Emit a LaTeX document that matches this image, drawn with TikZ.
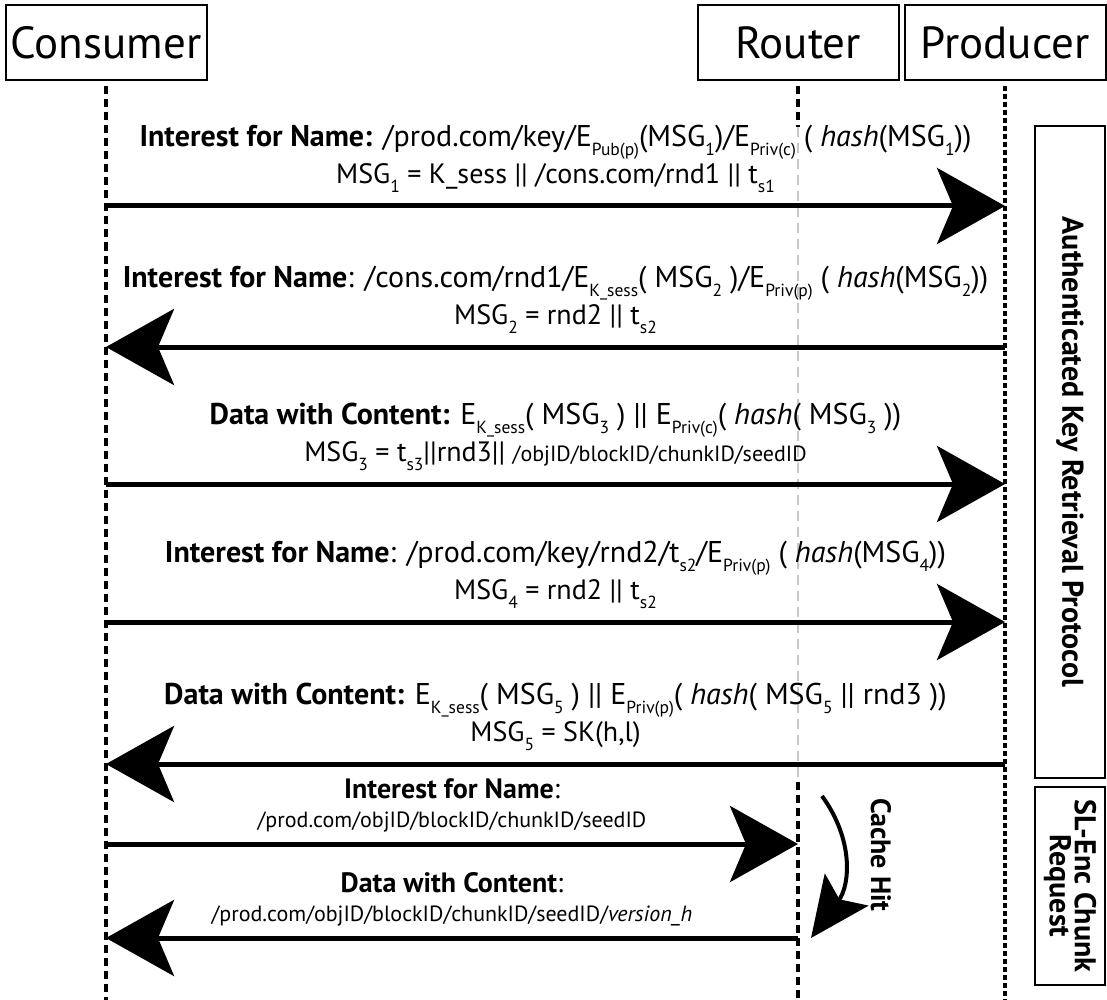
\documentclass[tikz,border=0pt]{standalone}
\usepackage{fontspec}
\setmainfont{PT Sans}
\usetikzlibrary{arrows.meta,positioning,calc}

\newcommand{\lsub}[1]{\raisebox{-9pt}[0pt][0pt]{\fontsize{17.5}{17.5}\selectfont #1}}
\newcommand{\pth}[1]{{\fontsize{22}{22}\selectfont #1}}
\newcommand{\hdl}{\fontsize{30}{37}\selectfont}

\begin{document}
\begin{tikzpicture}[
      x=1pt, y=1pt,
      font=\fontsize{28}{37}\selectfont,
      actor/.style={draw, line width=2pt, minimum width=201pt, minimum height=75pt,
                    inner sep=0pt, font=\fontsize{45}{45}\selectfont},
      life/.style={line width=3.5pt, dash pattern=on 8pt off 5pt},
      plife/.style={line width=4pt, dash pattern=on 5pt off 3pt},
      glife/.style={line width=2.5pt, draw=black!22, dash pattern=on 10pt off 6pt},
      msg/.style={line width=5pt, -{Stealth[length=68pt, width=76pt, inset=16pt]}},
      hitarr/.style={line width=4pt, -{Stealth[length=60pt, width=54pt, inset=12pt]}},
      lbl/.style={align=center, anchor=south, inner sep=0pt, text depth=0pt, yshift=20pt},
      phase/.style={draw, line width=2pt, rotate=-90, minimum height=70pt, inner sep=0pt,
                    align=center, font=\fontsize{30}{25}\selectfont\bfseries}
    ]
    \useasboundingbox (0,0) rectangle (1107,-1000);
    % participants
    \node[actor] (cons) at (106,-43) {Consumer};
    \node[actor] (rout) at (798,-43) {Router};
    \node[actor] (prod) at (1005,-43) {Producer};
    % lifelines
    \coordinate (bot) at (0,-1000);
    \coordinate (gtop) at (0,-127);
    \coordinate (gbot) at (0,-782);
    \draw[life] ([yshift=-5pt]cons.south) -- (cons.south |- bot);
    \draw[life] ([yshift=-5pt]rout.south) -- (rout.south |- gtop);
    \draw[glife] (rout.south |- gtop) -- (rout.south |- gbot);
    \draw[life] (rout.south |- gbot) -- (rout.south |- bot);
    \draw[plife] ([yshift=-5pt]prod.south) -- (prod.south |- bot);
    % message levels
    \foreach \n/\y in {1/206,2/347,3/484,4/622,5/764,6/844,7/938} {
      \coordinate (y\n) at (0,-\y);
      \coordinate (c\n) at (cons |- y\n);
      \coordinate (r\n) at (rout |- y\n);
      \coordinate (p\n) at (prod |- y\n);
    }
    \draw[msg] (c1) -- (p1) node[midway, lbl] {{\hdl\textbf{Interest for Name:} /prod.com/key/E\lsub{Pub(p)}(MSG\lsub{1})/E\lsub{Priv(c)} ( \textit{hash}(MSG\lsub{1}))}\\
      MSG\lsub{1} = K\_sess || /cons.com/rnd1 || t\lsub{s1}};
    \draw[msg] (p2) -- (c2) node[midway, lbl] {{\hdl\textbf{Interest for Name}: /cons.com/rnd1/E\lsub{K\_sess}( MSG\lsub{2} )/E\lsub{Priv(p)} ( \textit{hash}(MSG\lsub{2}))}\\
      MSG\lsub{2} = rnd2 || t\lsub{s2}};
    \draw[msg] (c3) -- (p3) node[midway, lbl] {{\hdl\textbf{Data with Content:} E\lsub{K\_sess}( MSG\lsub{3} ) || E\lsub{Priv(c)}( \textit{hash}( MSG\lsub{3} ))}\\
      MSG\lsub{3} = t\lsub{s3}||rnd3|| \pth{/objID/blockID/chunkID/seedID}};
    \draw[msg] (c4) -- (p4) node[midway, lbl] {{\hdl\textbf{Interest for Name}: /prod.com/key/rnd2/t\lsub{s2}/E\lsub{Priv(p)} ( \textit{hash}(MSG\lsub{4}))}\\
      MSG\lsub{4} = rnd2 || t\lsub{s2}};
    \draw[msg] (p5) -- (c5) node[midway, lbl] {{\hdl\textbf{Data with Content:} E\lsub{K\_sess}( MSG\lsub{5} ) || E\lsub{Priv(p)}( \textit{hash}( MSG\lsub{5} || rnd3 ))}\\
      MSG\lsub{5} = SK(h,l)};
    % chunk request served from the router cache
    \draw[msg] (c6) -- (r6) node[midway, lbl, yshift=-6pt, font=\fontsize{28}{29}\selectfont] {\textbf{Interest for Name}:\\
      \pth{/prod.com/objID/blockID/chunkID/seedID}};
    \draw[msg] (r7) -- (c7) node[midway, lbl, yshift=-6pt, font=\fontsize{28}{29}\selectfont] {\textbf{Data with Content}:\\
      \pth{/prod.com/objID/blockID/chunkID/seedID/\textit{version\_h}}};
    \coordinate (hit1) at (822,-796);
    \coordinate (hit2) at (811,-938);
    \draw[hitarr] (hit1) .. controls (854,-840) and (850,-885) .. (hit2);
    \node[rotate=-90, font=\fontsize{28}{28}\selectfont\bfseries] (hit) at (881,-855) {Cache Hit};
    % protocol phases
    \node[phase, minimum width=651pt] (auth) at (1070,-452) {Authenticated Key Retrieval Protocol};
    \node[phase, minimum width=198pt] (slenc) at (1070,-886) {SL-Enc Chunk\\Request};
  \end{tikzpicture}
\end{document}
